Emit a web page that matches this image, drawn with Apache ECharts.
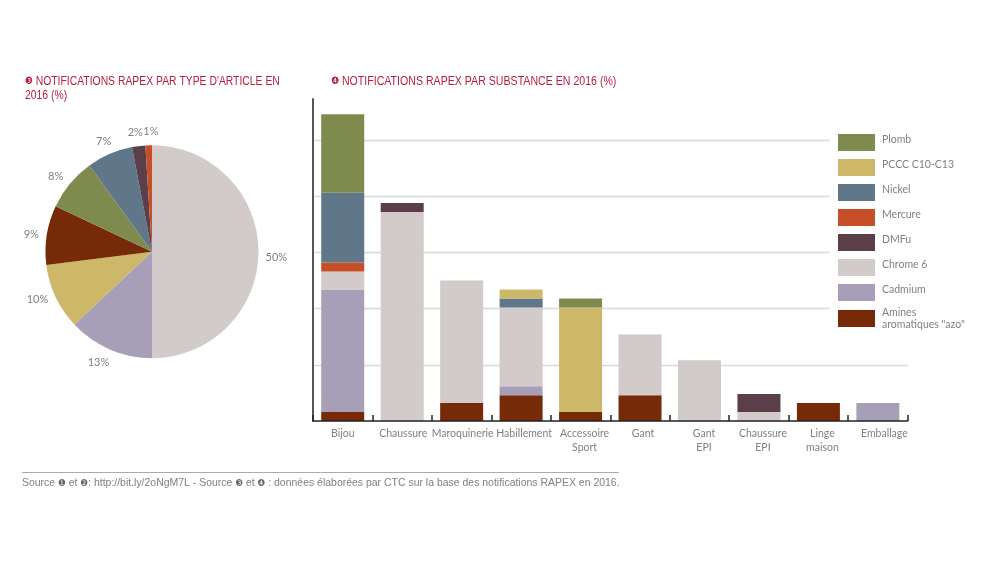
<!DOCTYPE html>
<html>
<head>
<meta charset="utf-8">
<title>Notifications RAPEX 2016</title>
<style>
html,body{margin:0;padding:0;background:#fff;}
#chart{width:1000px;height:563px;}
</style>
<script src="https://cdn.jsdelivr.net/npm/echarts@6/dist/echarts.min.js"></script>
</head>
<body>
<div id="chart"></div>
<script>
// camembert : type d'article
var pieValues = [50, 13, 10, 9, 8, 7, 2, 1];
var pieColors = ['#d2cbca', '#a69fb7', '#cdb86a', '#772a07', '#7f8a4f', '#5f7788', '#5a3e4a', '#c64f28'];
// decalage des etiquettes du camembert [dx, dy]
var pieLabelShift = [[-4, 6], [7, 8], [3, 0], [3, 0], [3, -4], [9, -7], [10, -8], [15, -8]];

// barres empilees : substance
var categories = ['Bijou', 'Chaussure', 'Maroquinerie', 'Habillement', 'Accessoire\nSport', 'Gant', 'Gant\nEPI', 'Chaussure\nEPI', 'Linge\nmaison', 'Emballage'];
var azo     = [0.8, 0, 1.6, 2.3, 0.8, 2.3, 0, 0, 1.6, 0];
var cadmium = [10.9, 0, 0, 0.8, 0, 0, 0, 0, 0, 1.6];
var chrome  = [1.6, 18.6, 10.9, 7.0, 0, 5.4, 5.4, 0.8, 0, 0];
var dmfu    = [0, 0.8, 0, 0, 0, 0, 0, 1.6, 0, 0];
var mercure = [0.8, 0, 0, 0, 0, 0, 0, 0, 0, 0];
var nickel  = [6.2, 0, 0, 0.8, 0, 0, 0, 0, 0, 0];
var pccc    = [0, 0, 0, 0.8, 9.3, 0, 0, 0, 0, 0];
var plomb   = [7.0, 0, 0, 0, 0.8, 0, 0, 0, 0, 0];
// les etiquettes de l'original ne sont pas tout a fait centrees
var labelPadLeft = [0, 2, 2, 6, 8, 6, 9, 8, 8, 13];

var legendTop = ['Plomb', 'PCCC C10-C13', 'Nickel', 'Mercure', 'DMFu', 'Chrome 6', 'Cadmium'];
var legendLast = ['Amines\naromatiques "azo"'];

var sans = '"Liberation Sans", sans-serif';
var small = 'Lato, sans-serif';
var grey = '#808080';
var red = '#b81c3e';

function stack(name, data, color) {
	return {
		name: name,
		type: 'bar',
		stack: 'total',
		barWidth: 43,
		data: data,
		itemStyle: {color: color}
	};
}

// titres en graphic : scaleX pour retrouver la police etroite
function heading(text, x, y, scale, size, color, numColor) {
	return {
		type: 'text',
		x: x, y: y, scaleX: scale,
		style: {
			text: text,
			fill: color,
			font: size + 'px ' + sans,
			lineHeight: 14.5,
			rich: {n: {font: (size - 2) + 'px "DejaVu Sans"', fill: numColor}}
		}
	};
}

var chart = echarts.init(document.getElementById('chart'));
chart.setOption({
	animation: false,
	backgroundColor: '#fff',
	legend: [
		{
			data: legendTop,
			orient: 'vertical',
			left: 830, top: 126,
			padding: [8, 5, 8, 8],
			backgroundColor: '#fff',
			itemWidth: 37, itemHeight: 17, itemGap: 8,
			icon: 'rect',
			selectedMode: false,
			formatter: '{t|{name}}',
			textStyle: {
				color: grey, fontSize: 10.5, fontFamily: small, padding: [0, 0, 0, 2],
				rich: {t: {color: grey, fontSize: 10.5, fontFamily: small, lineHeight: 12, padding: [0, 0, 6, 0]}}
			}
		},
		{
			data: legendLast,
			orient: 'vertical',
			left: 830, top: 304.5,
			padding: [2, 5, 8, 8],
			backgroundColor: '#fff',
			itemWidth: 37, itemHeight: 17,
			icon: 'rect',
			selectedMode: false,
			textStyle: {color: grey, fontSize: 10.5, fontFamily: small, lineHeight: 12, padding: [0, 0, 0, 2]}
		}
	],
	grid: {left: 313, top: 99, width: 594.6, height: 322},
	xAxis: {
		type: 'category',
		z: 5,
		data: categories.map(function (c, i) {
			return {value: c, textStyle: {padding: [0, 0, 0, labelPadLeft[i]]}};
		}),
		axisLine: {lineStyle: {color: '#222', width: 1.5}},
		axisTick: {show: true, inside: true, length: 6, lineStyle: {color: '#222', width: 1.5}},
		axisLabel: {interval: 0, color: grey, fontSize: 10.5, fontFamily: small, margin: 6, lineHeight: 14}
	},
	yAxis: {
		type: 'value',
		min: 0, max: 28.65, interval: 5,
		axisLine: {show: true, lineStyle: {color: '#555', width: 2}},
		axisTick: {show: false},
		axisLabel: {show: false},
		splitLine: {show: true, showMinLine: false, showMaxLine: false, lineStyle: {color: '#d9d9d9', width: 1.3}}
	},
	series: [
		{
			type: 'pie',
			center: [152, 251.7],
			radius: [0, 106.5],
			startAngle: 90,
			clockwise: true,
			avoidLabelOverlap: false,
			data: pieValues.map(function (v, i) {
				return {value: v, name: v + '%', itemStyle: {color: pieColors[i]}};
			}),
			label: {show: true, position: 'outside', formatter: '{b}', color: grey, fontSize: 11, fontFamily: small},
			labelLine: {show: false, length: 6, length2: 0},
			labelLayout: function (params) {
				var s = pieLabelShift[params.dataIndex];
				return {dx: s[0], dy: s[1], hideOverlap: false};
			}
		},
		stack('Amines\naromatiques "azo"', azo, '#772a07'),
		stack('Cadmium', cadmium, '#a69fb7'),
		stack('Chrome 6', chrome, '#d2cbca'),
		stack('DMFu', dmfu, '#5a3e4a'),
		stack('Mercure', mercure, '#c64f28'),
		stack('Nickel', nickel, '#5f7788'),
		stack('PCCC C10-C13', pccc, '#cdb86a'),
		stack('Plomb', plomb, '#7f8a4f')
	],
	graphic: [
		heading('{n|\u2778} NOTIFICATIONS RAPEX PAR TYPE D\'ARTICLE EN\n2016 (%)', 25, 74, 0.83, 12.5, red, red),
		heading('{n|\u2779} NOTIFICATIONS RAPEX PAR SUBSTANCE EN 2016 (%)', 331, 74, 0.848, 12.5, red, red),
		heading('Source {n|\u2776} et {n|\u2777}: http://bit.ly/2oNgM7L - Source {n|\u2778} et {n|\u2779} : données élaborées par CTC sur la base des notifications RAPEX en 2016.', 22, 476, 0.91, 11.5, grey, '#666'),
		{
			type: 'line',
			shape: {x1: 22, y1: 472.5, x2: 619, y2: 472.5},
			style: {stroke: '#aaa', lineWidth: 1}
		}
	]
});
</script>
</body>
</html>
